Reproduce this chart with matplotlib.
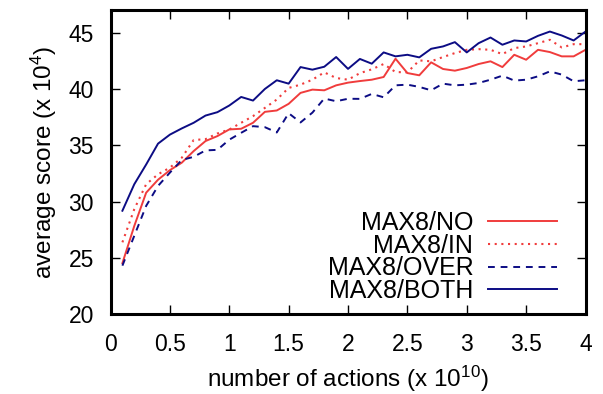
import numpy as np
import matplotlib
matplotlib.use('Agg')
import matplotlib.pyplot as plt

plt.rcParams['font.family'] = ['Liberation Sans', 'DejaVu Sans']
plt.rcParams['mathtext.default'] = 'regular'

# data (x in units of 1e10 actions, score in units of 1e4)
actions = [round(0.1 * k, 1) for k in range(1, 41)]

max8_no = [24.55, 27.85, 30.8, 31.95, 32.8, 33.46, 34.49, 35.38, 35.82, 36.41,
           36.47, 37.0, 37.97, 38.09, 38.68, 39.65, 39.94, 39.88, 40.32, 40.56,
           40.7, 40.82, 41.06, 42.68, 41.41, 41.21, 42.36, 41.77, 41.62, 41.86,
           42.21, 42.45, 41.94, 43.03, 42.59, 43.47, 43.27, 42.89, 42.89, 43.47]
max8_in = [26.4, 29.34, 31.55, 32.43, 33.02, 33.9, 35.47, 35.55, 36.05, 36.4,
           37.0, 37.59, 38.32, 39.06, 40.09, 40.38, 40.82, 41.47, 40.97, 40.82,
           41.4, 41.74, 42.21, 41.5, 41.47, 42.53, 42.45, 42.83, 43.18, 43.47,
           43.53, 43.47, 43.09, 43.62, 43.77, 44.06, 44.36, 43.68, 43.97, 43.97]
max8_over = [24.33, 26.98, 29.63, 31.4, 32.58, 33.7, 33.98, 34.55, 34.6, 35.5,
             36.11, 36.7, 36.61, 36.14, 37.85, 37.03, 37.9, 39.15, 38.91, 39.13,
             39.12, 39.56, 39.26, 40.32, 40.38, 40.18, 39.88, 40.47, 40.32, 40.38,
             40.53, 40.82, 41.18, 40.74, 40.82, 41.12, 41.56, 41.27, 40.68, 40.77]
max8_both = [29.2, 31.55, 33.3, 35.15, 35.95, 36.5, 37.0, 37.64, 37.94, 38.53,
             39.29, 38.97, 40.0, 40.77, 40.47, 41.94, 41.71, 41.97, 42.83, 41.78,
             42.66, 42.24, 43.24, 42.89, 43.03, 42.8, 43.56, 43.77, 44.15, 43.24,
             44.06, 44.56, 43.92, 44.3, 44.21, 44.71, 45.09, 44.74, 44.3, 45.09]

xticks = [0, 0.5, 1, 1.5, 2, 2.5, 3, 3.5, 4]
xtick_labels = ['0', '0.5', '1', '1.5', '2', '2.5', '3', '3.5', '4']
yticks = [20, 25, 30, 35, 40, 45]

red = '#f03c3c'
blue = '#0c0c84'

fig = plt.figure(figsize=(6.03, 3.94), dpi=100)
ax = fig.add_axes([0.1833, 0.2018, 0.7877, 0.7728])

ax.plot(actions, max8_no, color=red, lw=1.4, label='MAX8/NO')
ax.plot(actions, max8_in, color=red, lw=1.5, ls=(0, (1, 2.2)), label='MAX8/IN')
ax.plot(actions, max8_over, color=blue, lw=1.4, ls=(0, (3.5, 3)), label='MAX8/OVER')
ax.plot(actions, max8_both, color=blue, lw=1.4, label='MAX8/BOTH')

ax.set_xlim(0, 4)
ax.set_ylim(20, 47)
ax.set_xticks(xticks)
ax.set_xticklabels(xtick_labels)
ax.set_yticks(yticks)
ax.tick_params(direction='in', length=6.5, width=1, labelsize=16.5,
               top=True, right=True)
ax.tick_params(axis='x', pad=13)
ax.tick_params(axis='y', pad=12)
for s in ax.spines.values():
    s.set_linewidth(2.2)

ax.set_xlabel(r'number of actions (x 10$^{10}$)', fontsize=17.5, labelpad=6)
ax.set_ylabel(r'average score (x 10$^{4}$)', fontsize=17.5, labelpad=7)

ax.legend(loc='upper right', bbox_to_anchor=(0.94, 0.34), frameon=False,
          markerfirst=False, fontsize=18, handlelength=2.75,
          handletextpad=0.6, labelspacing=-0.05, borderpad=0, borderaxespad=0)

fig.savefig('out.png', dpi=100)
